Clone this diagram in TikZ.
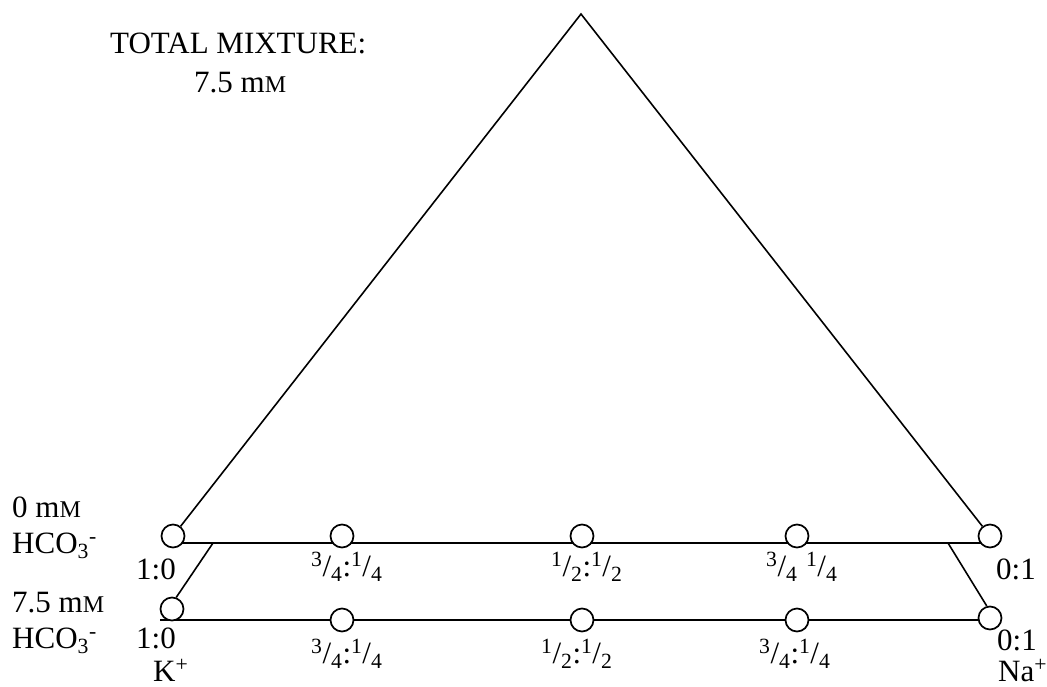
\documentclass[tikz,border=0pt]{standalone}
\usepackage{fontspec}
\setmainfont{Liberation Serif}
\newcommand{\smM}{{\fontsize{24pt}{24pt}\selectfont M}}
\newcommand{\fr}[2]{\textsuperscript{#1}/\textsubscript{#2}}
\begin{document}
\begin{tikzpicture}[x=1pt,y=-1pt,
  dot/.style={circle,draw,fill=white,line width=1.7pt,minimum size=23pt,inner sep=0pt},
  lbl/.style={inner sep=0pt,font=\fontsize{31pt}{33pt}\selectfont},
  ln/.style={line width=1.6pt}]
\useasboundingbox (0,0) rectangle (1047,686);
% geometry
\coordinate (A) at (581,14);
\coordinate (tl) at (173,543);
\coordinate (tr) at (990,543);
\coordinate (bl) at (160,620);
\coordinate (br) at (990,620);
\coordinate (dl) at (213,543);
\coordinate (dr) at (948,543);
% lines
\draw[ln] (tl) -- (tr);
\draw[ln] (bl) -- (br);
% circles top
\node[dot] (L1) at (173,536) {};
\node[dot] (T2) at (342,536) {};
\node[dot] (T3) at (582,536) {};
\node[dot] (T4) at (797,536) {};
\node[dot] (R1) at (990,536) {};
% circles bottom
\node[dot] (L2) at (172,609) {};
\node[dot] (B2) at (342,620) {};
\node[dot] (B3) at (582,620) {};
\node[dot] (B4) at (797,620) {};
\node[dot] (R2) at (990,618) {};
% triangle and diagonals
\draw[ln] (L1) -- (A) -- (R1);
\draw[ln] (dl) -- (L2.70);
\draw[ln] (dr) -- (R2.105);
% labels
\node[lbl,anchor=base west] (tm) at (110,53) {TOTAL MIXTURE:};
\node[lbl,anchor=base west] (tc) at (194,92) {7.5 m\smM};
\node[lbl,anchor=base west] (c0) at (12,517) {0 m\smM};
\node[lbl,anchor=base west] (h0) at (12,553) {HCO\textsubscript{3}\textsuperscript{-}};
\node[lbl,anchor=base west] (c1) at (12,612) {7.5 m\smM};
\node[lbl,anchor=base west] (h1) at (12,648) {HCO\textsubscript{3}\textsuperscript{-}};
\node[lbl,anchor=base west] (r10) at (136,579) {1:0};
\node[lbl,anchor=base west] (r11) at (136,648) {1:0};
\node[lbl,anchor=base west] (K) at (153,681) {K\textsuperscript{+}};
\node[lbl,anchor=base west] (f1) at (311,576) {\fr{3}{4}:\fr{1}{4}};
\node[lbl,anchor=base west] (f2) at (551,576) {\fr{1}{2}:\fr{1}{2}};
\node[lbl,anchor=base west] (f3) at (766,576) {\fr{3}{4}\hspace{0.278em}\fr{1}{4}};
\node[lbl,anchor=base west] (g1) at (311,663) {\fr{3}{4}:\fr{1}{4}};
\node[lbl,anchor=base west] (g2) at (541,663) {\fr{1}{2}:\fr{1}{2}};
\node[lbl,anchor=base west] (g3) at (759,663) {\fr{3}{4}:\fr{1}{4}};
\node[lbl,anchor=base west] (r01) at (996,579) {0:1};
\node[lbl,anchor=base west] (r02) at (997,650) {0:1};
\node[lbl,anchor=base west] (Na) at (998,681) {Na\textsuperscript{+}};
\end{tikzpicture}
\end{document}
